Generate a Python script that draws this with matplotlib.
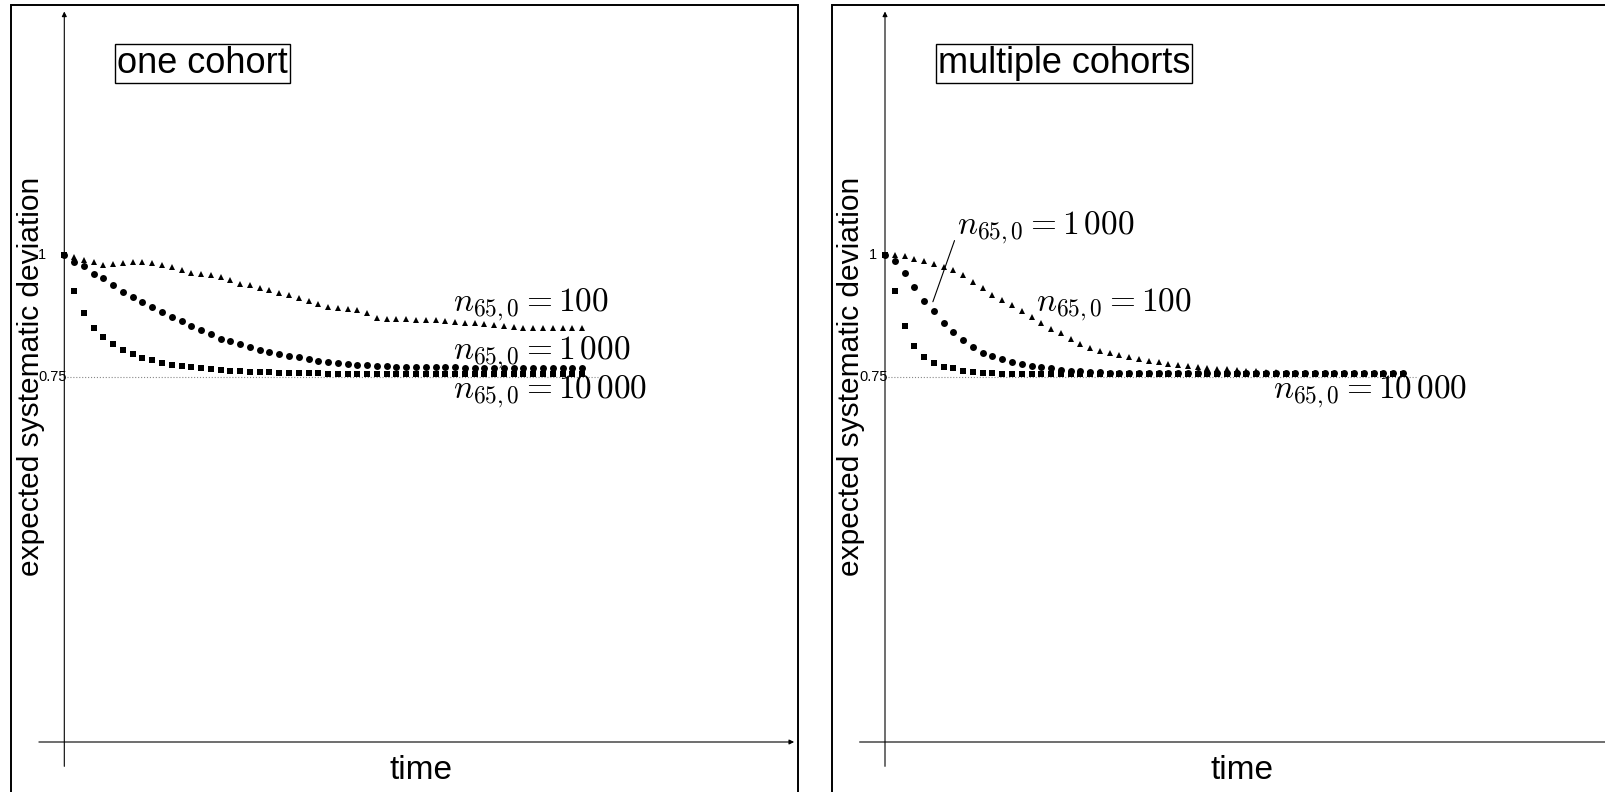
import numpy as np
import matplotlib
matplotlib.use("Agg")
import matplotlib.pyplot as plt
from matplotlib.patches import Rectangle

plt.rcParams.update({
    "font.family": "Liberation Sans",
    "mathtext.fontset": "cm",
})

# time steps (years after start)
years = np.arange(54)

# one cohort
one_n100 = [1.000, 0.995, 0.990, 0.985, 0.980, 0.982, 0.984, 0.985, 0.985, 0.984,
            0.980, 0.975, 0.969, 0.963, 0.961, 0.958, 0.954, 0.948, 0.941, 0.938,
            0.933, 0.928, 0.921, 0.917, 0.912, 0.906, 0.899, 0.893, 0.891, 0.890,
            0.887, 0.880, 0.870, 0.869, 0.868, 0.868, 0.867, 0.867, 0.866, 0.864,
            0.862, 0.861, 0.860, 0.859, 0.857, 0.855, 0.852, 0.851, 0.851, 0.850,
            0.850, 0.850, 0.850, 0.850]
one_n1000 = [1.000, 0.986, 0.977, 0.962, 0.953, 0.938, 0.925, 0.914, 0.903, 0.893,
             0.882, 0.872, 0.864, 0.855, 0.847, 0.837, 0.828, 0.823, 0.818, 0.812,
             0.805, 0.800, 0.797, 0.793, 0.790, 0.786, 0.783, 0.780, 0.778, 0.776,
             0.775, 0.774, 0.773, 0.772, 0.771, 0.771, 0.770, 0.770, 0.769, 0.769,
             0.769, 0.768, 0.768, 0.768, 0.768, 0.767, 0.767, 0.767, 0.767, 0.767,
             0.767, 0.767, 0.767, 0.767]
one_n10000 = [1.000, 0.926, 0.881, 0.851, 0.832, 0.817, 0.805, 0.796, 0.789, 0.784,
              0.779, 0.775, 0.773, 0.770, 0.767, 0.765, 0.763, 0.762, 0.761, 0.760,
              0.759, 0.759, 0.758, 0.758, 0.757, 0.757, 0.757, 0.756, 0.756, 0.756,
              0.756, 0.756, 0.756, 0.755, 0.755, 0.755, 0.755, 0.755, 0.755, 0.755,
              0.755, 0.755, 0.755, 0.755, 0.755, 0.755, 0.755, 0.755, 0.755, 0.755,
              0.755, 0.755, 0.755, 0.755]

# multiple cohorts
multi_n100 = [1.000, 0.999, 0.997, 0.991, 0.988, 0.982, 0.976, 0.969, 0.959, 0.945,
              0.932, 0.918, 0.908, 0.897, 0.886, 0.873, 0.860, 0.849, 0.839, 0.828,
              0.818, 0.810, 0.803, 0.798, 0.794, 0.790, 0.787, 0.783, 0.780, 0.777,
              0.774, 0.772, 0.770, 0.768, 0.766, 0.765, 0.763, 0.762, 0.761, 0.760,
              0.759, 0.758, 0.758, 0.757, 0.757, 0.757, 0.756, 0.756, 0.756, 0.756,
              0.756, 0.756, 0.756, 0.756]
multi_n1000 = [1.000, 0.988, 0.964, 0.935, 0.906, 0.884, 0.860, 0.841, 0.825, 0.812,
               0.799, 0.793, 0.786, 0.780, 0.776, 0.772, 0.769, 0.767, 0.764, 0.762,
               0.761, 0.760, 0.759, 0.758, 0.758, 0.757, 0.757, 0.757, 0.757, 0.757,
               0.757, 0.757, 0.757, 0.757, 0.757, 0.757, 0.757, 0.757, 0.757, 0.757,
               0.757, 0.757, 0.757, 0.757, 0.757, 0.757, 0.757, 0.757, 0.757, 0.757,
               0.757, 0.757, 0.757, 0.757]
multi_n10000 = [1.000, 0.926, 0.854, 0.813, 0.790, 0.779, 0.771, 0.767, 0.762, 0.760,
                0.758, 0.757, 0.756, 0.756, 0.755, 0.755, 0.755, 0.755, 0.755, 0.755,
                0.755, 0.755, 0.755, 0.755, 0.755, 0.755, 0.755, 0.755, 0.755, 0.755,
                0.755, 0.755, 0.755, 0.755, 0.755, 0.755, 0.755, 0.755, 0.755, 0.755,
                0.755, 0.755, 0.755, 0.755, 0.755, 0.755, 0.755, 0.755, 0.755, 0.755,
                0.755, 0.755, 0.755, 0.755]

panel_titles = ["one cohort", "multiple cohorts"]
label_100 = r"$n_{65,0} = 100$"
label_1000 = r"$n_{65,0} = 1\,000$"
label_10000 = r"$n_{65,0} = 10\,000$"

W, H = 1605, 792
fig = plt.figure(figsize=(W / 100, H / 100), dpi=100)


def make_axes(x_origin):
    """Axes whose data origin (t=0, v=1) lands at pixel (x_origin, 255)."""
    px_t, px_v = 9.77, 487.0
    X0, X1, Ytop, Ybot = x_origin - 45, x_origin + 740, 5, 790
    ax = fig.add_axes([X0 / W, 1 - Ybot / H, (X1 - X0) / W, (Ybot - Ytop) / H])
    ax.set_xlim((X0 - x_origin) / px_t, (X1 - x_origin) / px_t)
    ax.set_ylim(1 - (Ybot - 255) / px_v, 1 - (Ytop - 255) / px_v)
    ax.axis("off")
    ax.patch.set_alpha(0)
    return ax


def draw_panel(ax, title, n100, n1000, n10000):
    # axes with arrows
    ax.annotate("", xy=(74.7, 0), xytext=(-2.6, 0),
                arrowprops=dict(arrowstyle="-|>", lw=0.8, color="black",
                                mutation_scale=7, shrinkA=0, shrinkB=0))
    ax.annotate("", xy=(0, 1.5), xytext=(0, -0.05),
                arrowprops=dict(arrowstyle="-|>", lw=0.8, color="black",
                                mutation_scale=7, shrinkA=0, shrinkB=0))
    ax.plot([0, 54.6], [0.75, 0.75], ls=":", color="#888888", lw=0.8)

    ax.plot(years, n100, ls="none", marker="^", ms=4.6, color="black", mew=0)
    ax.plot(years, n1000, ls="none", marker="o", ms=5.0, color="black", mew=0)
    ax.plot(years, n10000, ls="none", marker="s", ms=4.0, color="black", mew=0)

    ax.text(5.4, 1.393, title, fontsize=26, va="center", ha="left",
            bbox=dict(boxstyle="square,pad=0.05", fc="white", ec="black", lw=1.0))
    ax.text(36.5, -0.058, "time", fontsize=24, ha="center", va="center")
    ax.text(-3.45, 0.75, "expected systematic deviation", fontsize=21.5,
            rotation=90, ha="center", va="center")


ax1 = make_axes(64.3)
draw_panel(ax1, panel_titles[0], one_n100, one_n1000, one_n10000)
ax1.text(-2.3, 1.0, "1", fontsize=10.5, ha="center", va="center")
ax1.text(0.3, 0.75, "0.75", fontsize=10.5, ha="right", va="center")
ax1.text(39.8, 0.897, label_100, fontsize=24, ha="left", va="center")
ax1.text(39.8, 0.799, label_1000, fontsize=24, ha="left", va="center")
ax1.text(39.8, 0.719, label_10000, fontsize=24, ha="left", va="center")

ax2 = make_axes(885.0)
draw_panel(ax2, panel_titles[1], multi_n100, multi_n1000, multi_n10000)
ax2.text(-1.2, 1.0, "1", fontsize=10.5, ha="center", va="center")
ax2.text(0.3, 0.75, "0.75", fontsize=10.5, ha="right", va="center")
ax2.annotate(label_1000, xy=(4.9, 0.904), xytext=(7.4, 1.057),
             fontsize=24, ha="left", va="center",
             arrowprops=dict(arrowstyle="-", lw=0.8, color="black",
                             relpos=(0.0, 0.35), shrinkA=0, shrinkB=0))
ax2.text(15.5, 0.897, label_100, fontsize=24, ha="left", va="center")
ax2.text(39.7, 0.719, label_10000, fontsize=24, ha="left", va="center")

# panel frames
for x0 in (11, 832):
    fig.patches.append(Rectangle((x0 / W, -0.05), 787 / W, 1 - 5 / H + 0.05,
                                 transform=fig.transFigure, fill=False,
                                 ec="black", lw=1.4))

fig.savefig("out.png", dpi=100)
